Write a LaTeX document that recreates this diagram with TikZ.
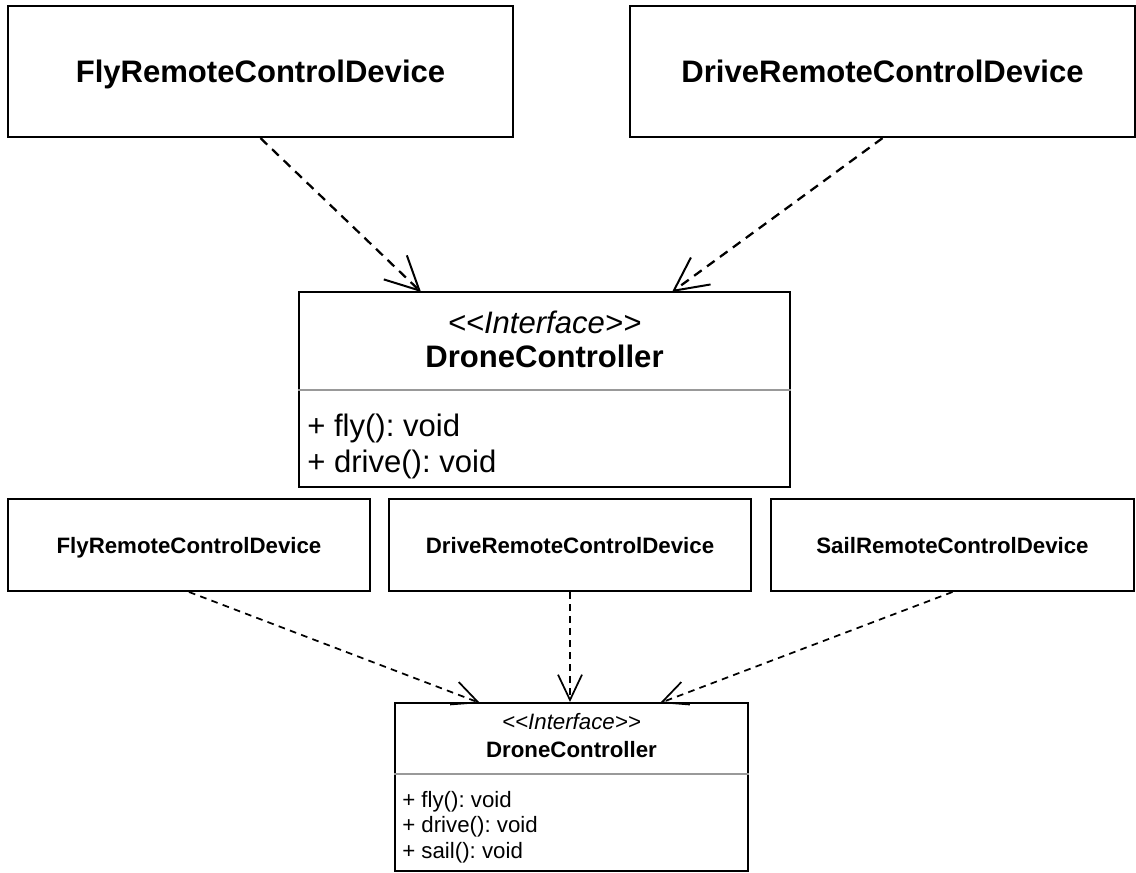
\documentclass[tikz,border=0pt]{standalone}
\usepackage{fontspec}
\setmainfont{Liberation Sans}
\usetikzlibrary{arrows.meta}
\begin{document}
\frenchspacing
\begin{tikzpicture}[x=0.75pt,y=-0.75pt,
  bigbox/.style={draw,line width=1.7pt,inner sep=0pt,text height=16.7pt,text depth=0pt,font=\fontsize{23.3}{28}\selectfont\bfseries},
  smallbox/.style={draw,line width=1.5pt,inner sep=0pt,text height=12pt,text depth=0pt,font=\fontsize{16.7}{20}\selectfont\bfseries},
  bigtxt/.style={inner sep=0pt,font=\fontsize{23.3}{28}\selectfont},
  smalltxt/.style={inner sep=0pt,font=\fontsize{16.7}{20}\selectfont},
  sepline/.style={draw=black!40,line width=1.5pt},
  bigdep/.style={line width=1.7pt,dash pattern=on 7pt off 5pt,-{Straight Barb[length=25pt,width=25pt,line width=1.5pt]}},
  smalldep/.style={line width=1.3pt,dash pattern=on 5pt off 4pt,-{Straight Barb[length=19pt,width=18pt,line width=1.3pt]}}
]
\useasboundingbox (0,0) rectangle (1136,873);
% top row
\node[bigbox,minimum width=378.75pt,minimum height=98.25pt] (tl) at (260.5,71.5) {FlyRemoteControlDevice};
\node[bigbox,minimum width=378.75pt,minimum height=98.25pt] (tr) at (882.5,71.5) {DriveRemoteControlDevice};
% first interface
\node[draw,line width=1.7pt,minimum width=368.25pt,minimum height=146.25pt,inner sep=0pt] (if1) at (544.5,389.5) {};
\node[bigtxt,font=\fontsize{23.3}{28}\selectfont\itshape] (if1st) at (544.5,322) {{<}{<}Interface{>}{>}};
\node[bigtxt,font=\fontsize{23.3}{28}\selectfont\bfseries] (if1nm) at (544.5,356) {DroneController};
\draw[sepline] (if1.west |- 0,390) -- (if1.east |- 0,390);
\node[bigtxt,anchor=west] (if1m1) at (307,428) {+ fly(): void};
\node[bigtxt,anchor=west] (if1m2) at (307,464) {+ drive(): void};
% second row
\node[smallbox,minimum width=271.5pt,minimum height=69pt] (b1) at (189,545) {FlyRemoteControlDevice};
\node[smallbox,minimum width=271.5pt,minimum height=69pt] (b2) at (570,545) {DriveRemoteControlDevice};
\node[smallbox,minimum width=272.25pt,minimum height=69pt] (b3) at (952.5,545) {SailRemoteControlDevice};
% second interface
\node[draw,line width=1.5pt,minimum width=264.75pt,minimum height=126pt,inner sep=0pt] (if2) at (571.5,787) {};
\node[smalltxt,font=\fontsize{16.7}{20}\selectfont\itshape] (if2st) at (571.5,722) {{<}{<}Interface{>}{>}};
\node[smalltxt,font=\fontsize{16.7}{20}\selectfont\bfseries] (if2nm) at (571.5,750) {DroneController};
\draw[sepline] (if2.west |- 0,774) -- (if2.east |- 0,774);
\node[smalltxt,anchor=west] (if2m1) at (402,802) {+ fly(): void};
\node[smalltxt,anchor=west] (if2m2) at (402,827) {+ drive(): void};
\node[smalltxt,anchor=west] (if2m3) at (402,853) {+ sail(): void};
% connector end points
\coordinate (e1) at (421,292);
\coordinate (e2) at (672,292);
\coordinate (e3) at (480,703);
\coordinate (e4) at (660,703);
\draw[bigdep] (tl.south) -- (e1);
\draw[bigdep] (tr.south) -- (e2);
\draw[smalldep] (b1.south) -- (e3);
\draw[smalldep] (b2.south) -- (b2.south |- if2.north);
\draw[smalldep] (b3.south) -- (e4);
\end{tikzpicture}
\end{document}
